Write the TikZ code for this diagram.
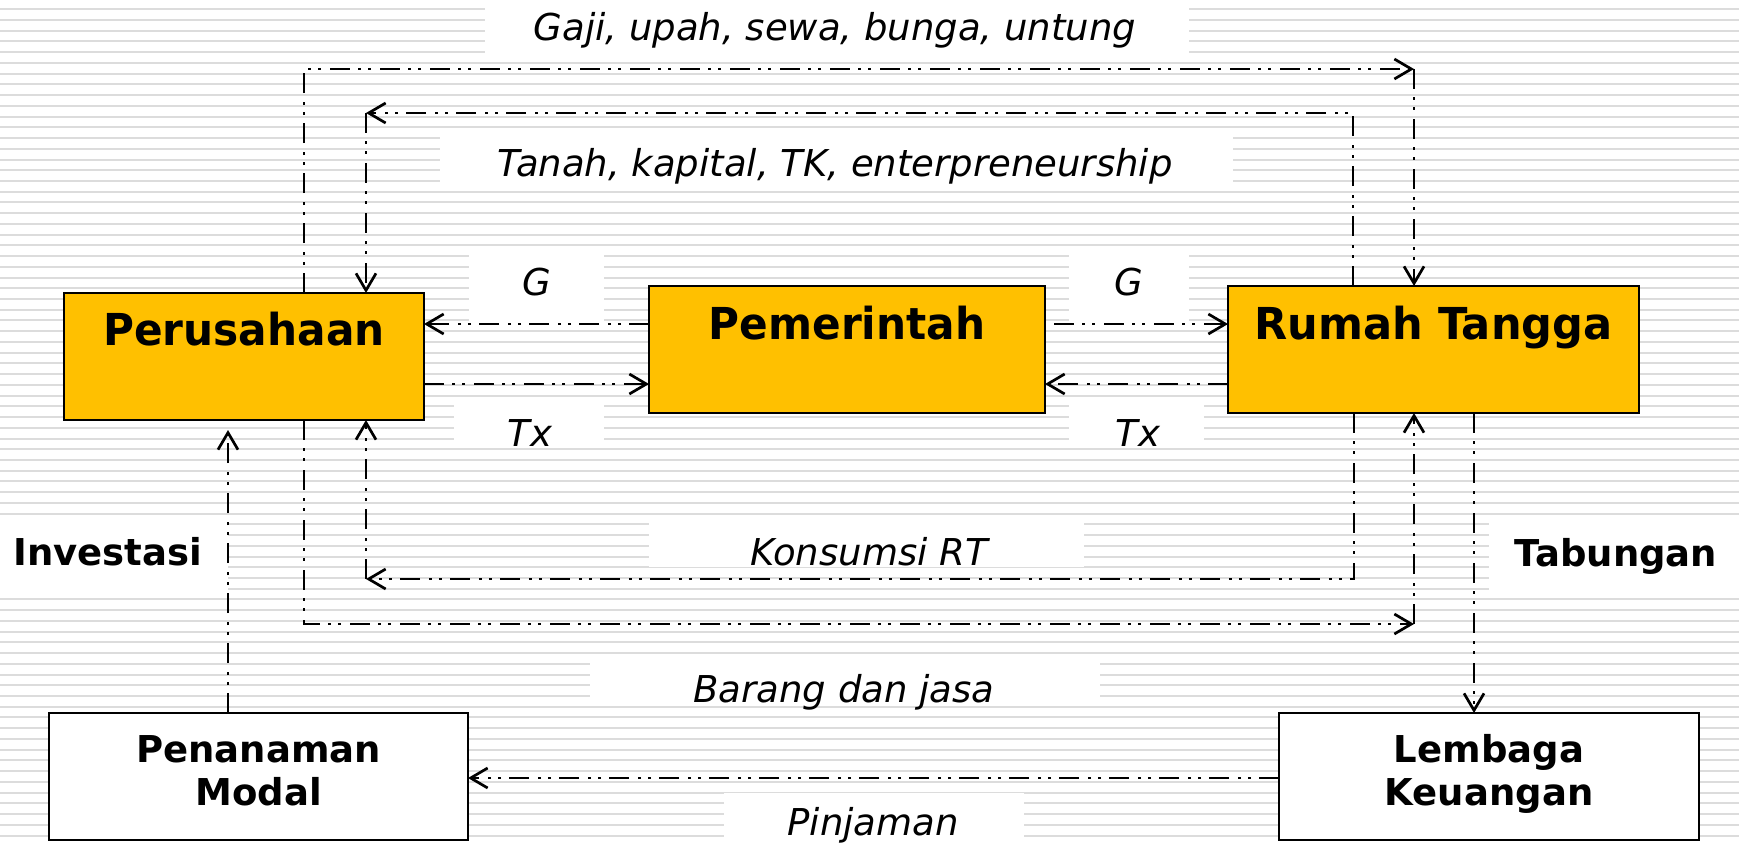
\documentclass[tikz,border=0pt]{standalone}
\usepackage{fontspec}
\setmainfont{DejaVu Sans}
\newfontfamily\titlefont[FakeStretch=0.96]{DejaVu Sans}
\newfontfamily\titlefontn[FakeStretch=0.98]{DejaVu Sans}
\usetikzlibrary{arrows.meta}
\definecolor{boxfill}{HTML}{FFC000}
\definecolor{stripecol}{HTML}{DCDCDC}
\begin{document}
\begin{tikzpicture}[x=0.5pt, y=-0.5pt,
  stripe/.style={draw=stripecol, line width=1pt},
  bgw/.style={fill=white},
  flow/.style={line width=1.35pt,
    dash pattern=on 10pt off 4pt on 1.5pt off 3.5pt on 1.5pt off 4.5pt,
    -{Straight Barb[length=8.5pt,width=10pt]}},
  tbox/.style={draw, line width=1.4pt, fill=boxfill, inner sep=0pt, outer sep=0pt},
  wbox/.style={draw, line width=1.4pt, fill=white, inner sep=0pt, outer sep=0pt},
  ttl/.style={font=\titlefont\bfseries\fontsize{22}{26}\selectfont, anchor=base, inner sep=0pt},
  ttln/.style={font=\titlefontn\bfseries\fontsize{22}{26}\selectfont, anchor=base, inner sep=0pt},
  lbl/.style={font=\itshape\fontsize{18.5}{22}\selectfont, anchor=base, inner sep=0pt},
  blbl/.style={font=\bfseries\fontsize{18.5}{22}\selectfont, anchor=base, inner sep=0pt}]
\useasboundingbox (0,0) rectangle (1739,842);
\fill[white] (0,0) rectangle (1739,842);
% background stripes
\foreach \i in {0,...,78}{
  \pgfmathsetmacro\yy{9.3+10.73*\i}
  \draw[stripe] (0,\yy) -- (1739,\yy);
}
% white label backgrounds
\fill[bgw] (485,0) rectangle (1189,55);
\fill[bgw] (440,133) rectangle (1233,191);
\fill[bgw] (469,255) rectangle (604,322);
\fill[bgw] (1069,255) rectangle (1189,323);
\fill[bgw] (454,401) rectangle (604,443);
\fill[bgw] (1069,403) rectangle (1204,443);
\fill[bgw] (649,523) rectangle (1084,567);
\fill[bgw] (590,654) rectangle (1100,699);
\fill[bgw] (724,793) rectangle (1024,842);
\fill[bgw] (0,517) rectangle (228,590);
\fill[bgw] (1489,523) rectangle (1739,590);

% boxes
\node[tbox, minimum width=180pt, minimum height=63.5pt] (P) at (244,356.5) {};
\node[tbox, minimum width=198pt, minimum height=63.5pt] (G) at (847,349.5) {};
\node[tbox, minimum width=205.5pt, minimum height=63.5pt] (R) at (1433.5,349.5) {};
\node[wbox, minimum width=209.5pt, minimum height=63.5pt] (M) at (258.5,776.5) {};
\node[wbox, minimum width=210pt, minimum height=63.5pt] (L) at (1489,776.5) {};

% box titles
\node[ttl] (tP) at (244,345) {Perusahaan};
\node[ttl] (tG) at (847,339) {Pemerintah};
\node[ttln] (tR) at (1433.5,339) {Rumah Tangga};
\node[blbl] (tM1) at (258.5,762) {Penanaman};
\node[blbl] (tM2) at (258.5,805) {Modal};
\node[blbl] (tL1) at (1489,762) {Lembaga};
\node[blbl] (tL2) at (1489,805) {Keuangan};

% helper coordinates
\coordinate (c1) at (304,69);
\coordinate (c2) at (1414,69);
\coordinate (t1) at (1353,113);
\coordinate (t2) at (366,113);
\coordinate (k1) at (1354,579);
\coordinate (k2) at (366,579);
\coordinate (b1) at (304,624);
\coordinate (b2) at (1414,624);
\coordinate (yG) at (0,324);
\coordinate (yT) at (0,384);
\coordinate (yP) at (0,778);
\coordinate (xI) at (228,0);
\coordinate (xS) at (1474,0);

% connectors
\draw[flow] (P.north -| c1) -- (c1) -- (c2);
\draw[flow] (c2) -- (R.north -| c2);
\draw[flow] (R.north -| t1) -- (t1) -- (t2);
\draw[flow] (t2) -- (P.north -| t2);
\draw[flow] (G.west |- yG) -- (P.east |- yG);
\draw[flow] (P.east |- yT) -- (G.west |- yT);
\draw[flow, shorten <=4.5pt] (G.east |- yG) -- (R.west |- yG);
\draw[flow] (R.west |- yT) -- (G.east |- yT);
\draw[flow] (R.south -| k1) -- (k1) -- (k2);
\draw[flow] (k2) -- (P.south -| k2);
\draw[flow] (P.south -| b1) -- (b1) -- (b2);
\draw[flow] (b2) -- (R.south -| b2);
\draw[flow, shorten >=5pt] (M.north -| xI) -- (P.south -| xI);
\draw[flow] (R.south -| xS) -- (L.north -| xS);
\draw[flow] (L.west |- yP) -- (M.east |- yP);

% labels
\node[lbl] (lGaji) at (835,40) {Gaji, upah, sewa, bunga, untung};
\node[lbl] (lTanah) at (835,176) {Tanah, kapital, TK, enterpreneurship};
\node[lbl] (lG1) at (537,295) {G};
\node[lbl] (lG2) at (1129,295) {G};
\node[lbl] (lT1) at (530,446) {Tx};
\node[lbl] (lT2) at (1138,446) {Tx};
\node[lbl] (lK) at (869,565) {Konsumsi RT};
\node[lbl] (lB) at (844,702) {Barang dan jasa};
\node[lbl] (lPj) at (873,835) {Pinjaman};
\node[blbl] (lI) at (108,565) {Investasi};
\node[blbl] (lS) at (1616,566) {Tabungan};
\end{tikzpicture}
\end{document}
